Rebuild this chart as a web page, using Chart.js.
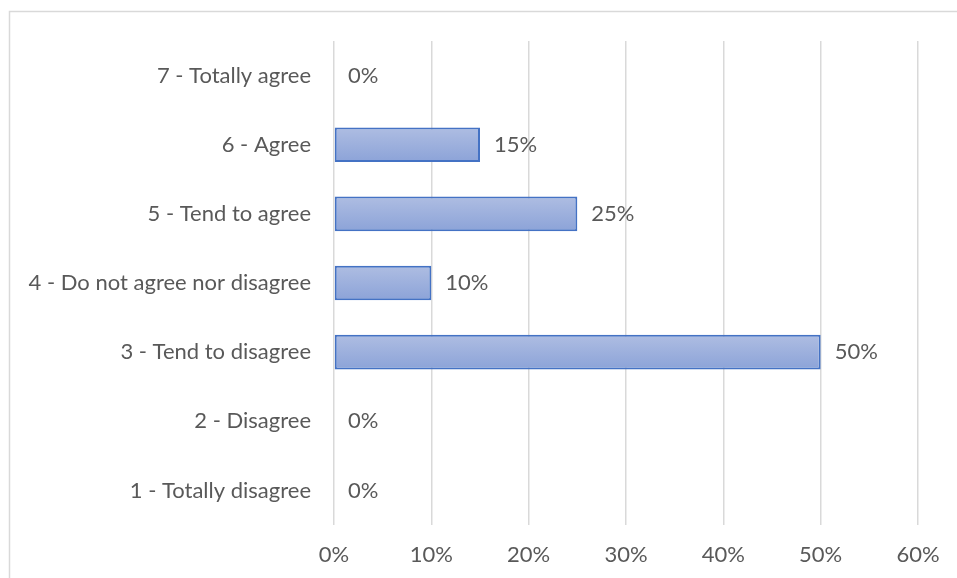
<!DOCTYPE html>
<html>
<head>
<meta charset="utf-8">
<script src="https://cdn.jsdelivr.net/npm/chart.js@4"></script>
<style>
  html, body { margin: 0; padding: 0; background: #fff; }
  #wrap { width: 957px; height: 578px; }
</style>
</head>
<body>
<div id="wrap"><canvas id="chart" width="957" height="578"></canvas></div>
<script>
const categories = [
  "7 - Totally agree",
  "6 - Agree",
  "5 - Tend to agree",
  "4 - Do not agree nor disagree",
  "3 - Tend to disagree",
  "2 - Disagree",
  "1 - Totally disagree"
];
const shares = [0, 15, 25, 10, 50, 0, 0];
const xTicks = [0, 10, 20, 30, 40, 50, 60];

const FONT = "Lato, 'Open Sans', sans-serif";
const SIZE = 22;
const TEXT = "#595959";
const GRID = "#d9d9d9";

// outer frame like the Excel chart border (only top/left visible)
const frame = {
  id: "frame",
  beforeDraw(c) {
    const ctx = c.ctx;
    ctx.save();
    ctx.strokeStyle = GRID;
    ctx.lineWidth = 1.5;
    ctx.beginPath();
    ctx.moveTo(9.5, 578);
    ctx.lineTo(9.5, 11.5);
    ctx.lineTo(957, 11.5);
    ctx.stroke();
    ctx.restore();
  }
};

// value labels to the right of each bar
const valueLabels = {
  id: "valueLabels",
  afterDatasetsDraw(c) {
    const ctx = c.ctx;
    const meta = c.getDatasetMeta(0);
    ctx.save();
    ctx.font = SIZE + "px " + FONT;
    ctx.fillStyle = TEXT;
    ctx.textAlign = "left";
    ctx.textBaseline = "middle";
    meta.data.forEach((bar, i) => {
      ctx.fillText(shares[i] + "%", bar.x + 14, bar.y);
    });
    ctx.restore();
  }
};

function barFill(context) {
  const c = context.chart;
  const y = c.scales.y;
  const area = c.chartArea;
  if (!y || !area || context.dataIndex === undefined) return "#9aaedc";
  const mid = y.getPixelForValue(context.dataIndex);
  const h = (area.bottom - area.top) / categories.length * 0.5;
  const g = c.ctx.createLinearGradient(0, mid - h / 2, 0, mid + h / 2);
  g.addColorStop(0, "#aebde2");
  g.addColorStop(1, "#8ca3d8");
  return g;
}

new Chart(document.getElementById("chart"), {
  type: "bar",
  data: {
    labels: categories,
    datasets: [{
      data: shares,
      backgroundColor: barFill,
      borderColor: "#4472c4",
      borderWidth: 2,
      borderSkipped: false,
      barPercentage: 0.5,
      categoryPercentage: 1
    }]
  },
  options: {
    indexAxis: "y",
    responsive: false,
    animation: false,
    events: [],
    layout: { padding: { top: 41, right: 39, left: 0, bottom: 0 } },
    plugins: { legend: { display: false }, tooltip: { enabled: false } },
    scales: {
      x: {
        min: 0,
        max: 60,
        afterBuildTicks: s => { s.ticks = xTicks.map(v => ({ value: v })); },
        afterFit: s => { s.height = 53; },
        border: { display: false },
        grid: { color: GRID, lineWidth: 1.5, drawTicks: false },
        ticks: {
          padding: 17,
          color: TEXT,
          font: { family: FONT, size: SIZE },
          callback: v => v + "%"
        }
      },
      y: {
        afterFit: s => { s.width = 334; },
        border: { display: false },
        grid: { display: false, drawTicks: false },
        ticks: {
          padding: 23,
          color: TEXT,
          font: { family: FONT, size: SIZE }
        }
      }
    }
  },
  plugins: [frame, valueLabels]
});
</script>
</body>
</html>
